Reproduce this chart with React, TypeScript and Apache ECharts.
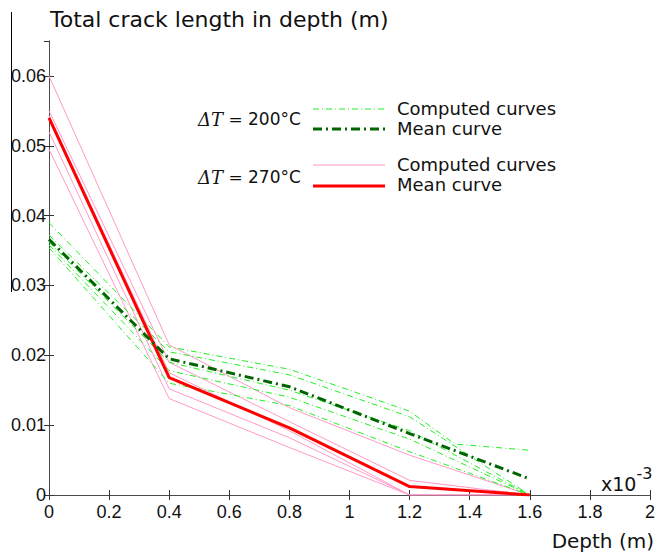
import React, { useEffect, useRef } from "react";
import * as echarts from "echarts";

// Depth positions (x10^-3 m)
const depthX = [0, 0.4, 0.8, 1.2, 1.6];
const depthXG1 = [0, 0.4, 0.8, 1.2, 1.35, 1.6];

// ΔT = 270°C computed curves (pink)
const p1 = [0.06, 0.0215, 0.0125, 0.0057, 0];
const p2 = [0.055, 0.019, 0.0105, 0.0021, 0];
const p3 = [0.0543, 0.0175, 0.0092, 0, 0];
const p4 = [0.052, 0.0152, 0.0082, 0, 0];
const p5 = [0.0495, 0.0138, 0.0068, 0, 0];
// ΔT = 270°C mean curve (red)
const redMean = [0.054, 0.0168, 0.0096, 0.0012, 0];

// ΔT = 200°C computed curves (green)
const g1 = [0.039, 0.0212, 0.018, 0.012, 0.0073, 0.0064];
const g2 = [0.0372, 0.0205, 0.0172, 0.0112, 0];
const g3 = [0.0362, 0.019, 0.015, 0.0092, 0];
const g4 = [0.0358, 0.0178, 0.014, 0.008, 0];
const g5 = [0.0354, 0.016, 0.0128, 0.0062, 0];
// ΔT = 200°C mean curve (dark green)
const greenMean = [0.0366, 0.0195, 0.0155, 0.0088, 0.0023];

const pts = (xs: number[], ys: number[]) => xs.map((x, i) => [x, ys[i]]);

const PINK = "#ff99c8";
const RED = "#ff0000";
const GREEN = "#22ee22";
const DKGREEN = "#006400";
const LBL_FONT = "Liberation Sans, Arial, sans-serif";
const TXT_FONT = "DejaVu Sans, sans-serif";

export default function App() {
  const ref = useRef<HTMLDivElement>(null);
  useEffect(() => {
    if (!ref.current) return;
    const chart = echarts.init(ref.current, undefined, { renderer: "svg" });
    const line = (data: number[][], color: string, width: number, type: any, z: number) => ({
      type: "line",
      data,
      showSymbol: false,
      symbol: "none",
      z,
      silent: true,
      lineStyle: { color, width, type, cap: "butt" },
    });
    const series: any[] = [
      line(pts(depthX, p1), PINK, 1, "solid", 2),
      line(pts(depthX, p2), PINK, 1, "solid", 2),
      line(pts(depthX, p3), PINK, 1, "solid", 2),
      line(pts(depthX, p4), PINK, 1, "solid", 2),
      line(pts(depthX, p5), PINK, 1, "solid", 2),
      line(pts(depthXG1, g1), GREEN, 1, [6, 3, 1, 3], 3),
      line(pts(depthX, g2), GREEN, 1, [6, 3, 1, 3], 3),
      line(pts(depthX, g3), GREEN, 1, [6, 3, 1, 3], 3),
      line(pts(depthX, g4), GREEN, 1, [6, 3, 1, 3], 3),
      line(pts(depthX, g5), GREEN, 1, [6, 3, 1, 3], 3),
      line(pts(depthX, redMean), RED, 3, "solid", 4),
      line(pts(depthX, greenMean), DKGREEN, 3, [9, 4, 2, 4], 5),
    ];
    const axisLine = { show: true, lineStyle: { color: "#4a4a4a", width: 1 } };
    const axisTick = { show: true, inside: true, length: 5, lineStyle: { color: "#333" } };
    const fmtX = (v: number) => {
      const r = Math.round(v * 10) / 10;
      return Number.isInteger(r) ? String(r) : r.toFixed(1);
    };
    const fmtY = (v: number) => (Math.abs(v) < 1e-9 ? "0" : v.toFixed(2));
    chart.setOption({
      animation: false,
      backgroundColor: "#ffffff",
      grid: { left: 49, right: 6, top: 41, bottom: 59, containLabel: false },
      xAxis: [
        {
          type: "value",
          min: 0,
          max: 2,
          interval: 0.2,
          position: "bottom",
          axisLine,
          axisTick,
          splitLine: { show: false },
          axisLabel: {
            formatter: fmtX,
            fontFamily: LBL_FONT,
            fontSize: 18,
            color: "#111",
            margin: 8,
          },
        },
        {
          type: "value",
          min: 0,
          max: 2,
          interval: 0.2,
          position: "top",
          axisLine,
          axisTick,
          splitLine: { show: false },
          axisLabel: { show: false },
        },
      ],
      yAxis: [
        {
          type: "value",
          min: 0,
          max: 0.065,
          interval: 0.01,
          position: "left",
          axisLine,
          axisTick,
          splitLine: { show: false },
          axisLabel: {
            formatter: fmtY,
            fontFamily: LBL_FONT,
            fontSize: 18,
            color: "#111",
            margin: 3,
            showMaxLabel: false,
          },
        },
        {
          type: "value",
          min: 0,
          max: 0.065,
          interval: 0.01,
          position: "right",
          axisLine,
          axisTick,
          splitLine: { show: false },
          axisLabel: { show: false },
        },
      ],
      series,
      graphic: [
        { type: "line", shape: { x1: 11.5, y1: 12, x2: 11.5, y2: 292 }, style: { stroke: "#000", lineWidth: 1 } },
        {
          type: "text",
          left: 50,
          top: 8,
          style: { text: "Total crack length in depth (m)", fontFamily: TXT_FONT, fontSize: 22, fill: "#111" },
        },
        {
          type: "text",
          x: 654,
          y: 541,
          style: { text: "Depth (m)", fontFamily: TXT_FONT, fontSize: 20, fill: "#111", align: "right", verticalAlign: "middle" },
        },
        {
          type: "text",
          x: 601,
          y: 479,
          style: {
            text: "{a|x10}{b|-3}",
            verticalAlign: "middle",
            rich: {
              a: { fontFamily: TXT_FONT, fontSize: 19, fill: "#111", lineHeight: 28, verticalAlign: "bottom" },
              b: { fontFamily: TXT_FONT, fontSize: 16, fill: "#111", lineHeight: 16, verticalAlign: "top" },
            },
          },
        },
        // Legend: ΔT = 200°C
        {
          type: "text",
          x: 198,
          y: 119,
          style: {
            text: "{m|ΔT}{e| = }{n|200°C}",
            verticalAlign: "middle",
            rich: {
              m: { fontFamily: "DejaVu Serif, serif", fontStyle: "italic", fontSize: 18, fill: "#111" },
              e: { fontFamily: "DejaVu Serif, serif", fontSize: 17, fill: "#111" },
              n: { fontFamily: TXT_FONT, fontSize: 17, fill: "#111" },
            },
          },
        },
        { type: "line", shape: { x1: 313, y1: 109, x2: 385, y2: 109 }, style: { stroke: GREEN, lineWidth: 1, lineDash: [6, 3, 1, 3] } },
        { type: "line", shape: { x1: 313, y1: 129, x2: 385, y2: 129 }, style: { stroke: DKGREEN, lineWidth: 3, lineDash: [9, 4, 2, 4] } },
        { type: "text", x: 397, y: 108, style: { text: "Computed curves", fontFamily: TXT_FONT, fontSize: 18, fill: "#111", verticalAlign: "middle" } },
        { type: "text", x: 397, y: 128, style: { text: "Mean curve", fontFamily: TXT_FONT, fontSize: 18, fill: "#111", verticalAlign: "middle" } },
        // Legend: ΔT = 270°C
        {
          type: "text",
          x: 198,
          y: 177,
          style: {
            text: "{m|ΔT}{e| = }{n|270°C}",
            verticalAlign: "middle",
            rich: {
              m: { fontFamily: "DejaVu Serif, serif", fontStyle: "italic", fontSize: 18, fill: "#111" },
              e: { fontFamily: "DejaVu Serif, serif", fontSize: 17, fill: "#111" },
              n: { fontFamily: TXT_FONT, fontSize: 17, fill: "#111" },
            },
          },
        },
        { type: "line", shape: { x1: 313, y1: 165, x2: 385, y2: 165 }, style: { stroke: PINK, lineWidth: 1 } },
        { type: "line", shape: { x1: 313, y1: 186, x2: 385, y2: 186 }, style: { stroke: RED, lineWidth: 3 } },
        { type: "text", x: 397, y: 164, style: { text: "Computed curves", fontFamily: TXT_FONT, fontSize: 18, fill: "#111", verticalAlign: "middle" } },
        { type: "text", x: 397, y: 184, style: { text: "Mean curve", fontFamily: TXT_FONT, fontSize: 18, fill: "#111", verticalAlign: "middle" } },
      ],
    });
    return () => chart.dispose();
  }, []);
  return <div ref={ref} style={{ position: "absolute", left: 0, top: 0, width: 658, height: 554 }} />;
}
